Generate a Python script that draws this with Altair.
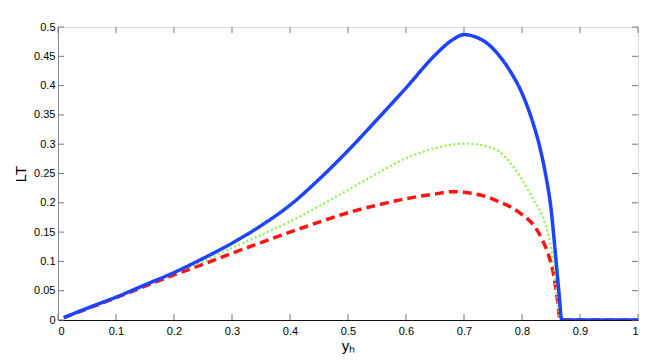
import altair as alt
import pandas as pd

# ---- data ----
blue_x = [0.01, 0.05, 0.1, 0.15, 0.2, 0.25, 0.3, 0.35, 0.4, 0.45, 0.5, 0.55, 0.6, 0.65, 0.68,
          0.7, 0.72, 0.74, 0.76, 0.78, 0.8, 0.82, 0.83, 0.84, 0.85, 0.857, 0.863, 0.869, 1.0]
blue_y = [0.004, 0.02, 0.039, 0.06, 0.081, 0.105, 0.131, 0.161, 0.196, 0.24, 0.289, 0.342, 0.396, 0.452,
          0.478, 0.487, 0.483, 0.472, 0.452, 0.424, 0.387, 0.333, 0.298, 0.252, 0.19, 0.12, 0.055, 0.0, 0.0]

green_x = [0.01, 0.1, 0.2, 0.25, 0.3, 0.35, 0.4, 0.45, 0.5, 0.55, 0.6, 0.65, 0.7, 0.72, 0.74, 0.76,
           0.78, 0.8, 0.82, 0.834, 0.846, 0.852, 0.857, 0.862, 0.866, 1.0]
green_y = [0.004, 0.039, 0.08, 0.1, 0.123, 0.145, 0.168, 0.194, 0.222, 0.25, 0.276, 0.293, 0.301, 0.3,
           0.296, 0.288, 0.268, 0.24, 0.205, 0.18, 0.142, 0.114, 0.07, 0.03, 0.0, 0.0]

red_x = [0.01, 0.1, 0.2, 0.25, 0.3, 0.35, 0.4, 0.45, 0.5, 0.55, 0.6, 0.65, 0.68, 0.7, 0.72, 0.74,
         0.76, 0.78, 0.8, 0.82, 0.835, 0.846, 0.855, 0.861, 0.866, 1.0]
red_y = [0.004, 0.038, 0.077, 0.095, 0.114, 0.132, 0.15, 0.167, 0.183, 0.196, 0.207, 0.215, 0.219,
         0.218, 0.215, 0.21, 0.202, 0.193, 0.18, 0.162, 0.137, 0.11, 0.075, 0.035, 0.0, 0.0]

x_ticks = [0, 0.1, 0.2, 0.3, 0.4, 0.5, 0.6, 0.7, 0.8, 0.9, 1]
y_ticks = [0, 0.05, 0.1, 0.15, 0.2, 0.25, 0.3, 0.35, 0.4, 0.45, 0.5]

W, H = 580, 293
TICK = 6
FONT = "Liberation Sans"

df = pd.concat([
    pd.DataFrame({"x": blue_x, "y": blue_y, "s": "blue"}),
    pd.DataFrame({"x": green_x, "y": green_y, "s": "green"}),
    pd.DataFrame({"x": red_x, "y": red_y, "s": "red"}),
])
xt = pd.DataFrame({"t": x_ticks})
yt = pd.DataFrame({"t": y_ticks})

xscale = alt.Scale(domain=[0, 1], nice=False)
yscale = alt.Scale(domain=[0, 0.5], nice=False)

xaxis = alt.Axis(values=x_ticks, format="~g", title="yₕ", ticks=False, labelPadding=5,
                 labelFont=FONT, labelFontSize=11, labelColor="#000",
                 titleFont=FONT, titleFontSize=15, titleFontWeight="normal", titleColor="#000",
                 titlePadding=2, domainColor="#111", domainWidth=1, grid=False)
yaxis = alt.Axis(values=y_ticks, format="~g", title="LT", ticks=False, labelPadding=3,
                 labelFont=FONT, labelFontSize=11, labelColor="#000",
                 titleFont=FONT, titleFontSize=15, titleFontWeight="normal", titleColor="#000",
                 titlePadding=5, domainColor="#888", domainWidth=1, grid=False)

base = alt.Chart(df)

def series(name, color, width, dash):
    return base.transform_filter(alt.datum.s == name).mark_line(
        color=color, strokeWidth=width, strokeDash=dash, clip=True, interpolate="monotone"
    ).encode(x=alt.X("x:Q", scale=xscale, axis=xaxis, title="yₕ"),
             y=alt.Y("y:Q", scale=yscale, axis=yaxis, title="LT"))

red = series("red", "#ff1414", 3.5, [9, 5])
green = series("green", "#8cf24a", 2.2, [2, 2.5])
blue = series("blue", "#1d44fb", 3.5, [1, 0])

tick_color = "#777"
bot = alt.Chart(xt).mark_rule(color=tick_color, strokeWidth=1).encode(
    x=alt.X("t:Q", scale=xscale, axis=xaxis, title="yₕ"), y=alt.value(H), y2=alt.value(H - TICK))
top = alt.Chart(xt).mark_rule(color=tick_color, strokeWidth=1).encode(
    x=alt.X("t:Q", scale=xscale, axis=xaxis, title="yₕ"), y=alt.value(0), y2=alt.value(TICK))
left = alt.Chart(yt).mark_rule(color=tick_color, strokeWidth=1).encode(
    y=alt.Y("t:Q", scale=yscale, axis=yaxis, title="LT"), x=alt.value(0), x2=alt.value(TICK))
right = alt.Chart(yt).mark_rule(color=tick_color, strokeWidth=1).encode(
    y=alt.Y("t:Q", scale=yscale, axis=yaxis, title="LT"), x=alt.value(W), x2=alt.value(W - TICK))

chart = alt.layer(bot, top, left, right, red, green, blue).properties(
    width=W, height=H, padding={"left": 5, "top": 13, "right": 5, "bottom": 5}
).configure_view(stroke="#888", strokeWidth=1).configure(background="white")

chart.save("out.html", embed_options={"renderer": "svg", "actions": False})
